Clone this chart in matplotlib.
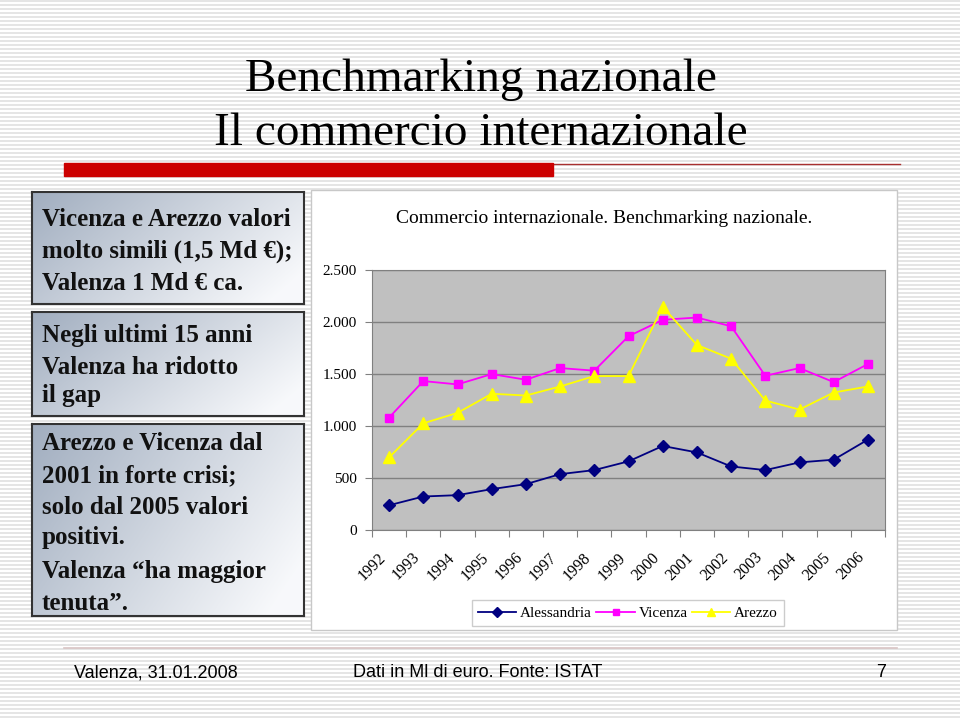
import numpy as np
import matplotlib.pyplot as plt
from matplotlib.patches import Rectangle
from matplotlib.lines import Line2D

W, H = 960, 719

years = ["1992", "1993", "1994", "1995", "1996", "1997", "1998", "1999",
         "2000", "2001", "2002", "2003", "2004", "2005", "2006"]
alessandria = [238, 322, 335, 393, 441, 537, 576, 660, 808, 746, 611, 576, 650, 676, 869]
vicenza = [1081, 1432, 1400, 1499, 1445, 1557, 1532, 1863, 2021, 2043, 1959, 1483, 1557, 1422, 1596]
arezzo = [698, 1026, 1126, 1310, 1293, 1380, 1480, 1480, 2146, 1779, 1647, 1245, 1158, 1322, 1380]
y_ticks = [0, 500, 1000, 1500, 2000, 2500]
y_labels = ["0", "500", "1.000", "1.500", "2.000", "2.500"]

box1 = ["Vicenza e Arezzo valori", "molto simili (1,5 Md \u20ac);", "Valenza 1 Md \u20ac ca."]
box2 = ["Negli ultimi 15 anni", "Valenza ha ridotto", "il gap"]
box3 = ["Arezzo e Vicenza dal", "2001 in forte crisi;", "solo dal 2005 valori",
        "positivi.", "Valenza \u201cha maggior", "tenuta\u201d."]

serif = ["Liberation Serif", "DejaVu Serif"]
narrow = ["Liberation Sans Narrow", "Liberation Sans", "DejaVu Sans"]


def fx(x):
    return x / W


def fy(y):
    return 1 - y / H


fig = plt.figure(figsize=(9.6, 7.19), dpi=100)

# striped slide background
bg = np.ones((H, W, 3))
rows = np.arange(H) % 4 < 2
bg[rows] = 0.90
fig.figimage(bg, xo=0, yo=0, zorder=-10)

# title
fig.text(fx(481), fy(91), "Benchmarking nazionale", family=serif, fontsize=34,
         ha="center", va="baseline")
fig.text(fx(481), fy(145), "Il commercio internazionale", family=serif, fontsize=34,
         ha="center", va="baseline")

# red bar under title
fig.patches.append(Rectangle((fx(64), fy(176)), fx(553) - fx(64), fy(163) - fy(176),
                             transform=fig.transFigure, color="#CC0000", zorder=2))
fig.add_artist(Line2D([fx(553), fx(900)], [fy(164), fy(164)], color="#A83030", lw=1.0))

# left text boxes with gradient fill
grad_x = np.linspace(0, 1, 200)
grad_y = np.linspace(0, 1, 100)
gx, gy = np.meshgrid(grad_x, grad_y)
t = np.clip(0.75 * gx + 0.35 * gy, 0, 1)
dark = np.array([0.63, 0.68, 0.75])
light = np.array([0.97, 0.975, 0.985])
grad = dark[None, None, :] * (1 - t[..., None]) + light[None, None, :] * t[..., None]


def text_box(x0, y0, x1, y1, lines, baselines):
    bax = fig.add_axes([fx(x0), fy(y1), fx(x1) - fx(x0), fy(y0) - fy(y1)])
    bax.imshow(grad, aspect="auto", extent=[0, 1, 0, 1])
    bax.set_xticks([])
    bax.set_yticks([])
    for s in bax.spines.values():
        s.set_color("#333333")
        s.set_linewidth(1.5)
    for line, b in zip(lines, baselines):
        fig.text(fx(42), fy(b), line, family=serif, fontsize=18, fontweight="bold",
                 va="baseline", ha="left", color="#111111")


text_box(32, 192, 304, 304, box1, [226, 258, 290])
text_box(32, 312, 304, 416, box2, [342, 374, 402])
text_box(32, 424, 304, 616, box3, [450, 482, 514, 544, 578, 610])

# chart frame
fig.patches.append(Rectangle((fx(311), fy(630)), fx(897) - fx(311), fy(190) - fy(630),
                             transform=fig.transFigure, facecolor="white",
                             edgecolor="#C8C8C8", lw=1, zorder=-5))
fig.text(fx(604), fy(223), "Commercio internazionale. Benchmarking nazionale.",
         family=serif, fontsize=14, ha="center", va="baseline")

ax = fig.add_axes([fx(372), fy(530), fx(885) - fx(372), fy(270) - fy(530)])
ax.set_facecolor("#C0C0C0")
x = np.arange(len(years))
ax.plot(x, alessandria, color="#000080", marker="D", markersize=6, lw=1.3, label="Alessandria")
ax.plot(x, vicenza, color="#FF00FF", marker="s", markersize=6, lw=1.3, label="Vicenza")
ax.plot(x, arezzo, color="#FFFF00", marker="^", markersize=8, lw=1.3, label="Arezzo")

ax.set_xlim(-0.5, len(years) - 0.5)
ax.set_ylim(0, 2500)
ax.set_yticks(y_ticks)
ax.set_yticklabels(y_labels, family=serif, fontsize=11)
ax.yaxis.grid(True, color="#808080", lw=1)
ax.set_axisbelow(True)
ax.set_xticks(np.arange(-0.5, len(years), 1))
ax.set_xticklabels([])
ax.tick_params(axis="x", which="major", length=5, color="#808080", direction="out")
ax.tick_params(axis="y", length=5, color="#808080", direction="out", pad=6)
for i, yr in enumerate(years):
    ax.annotate(yr, xy=(i, 0), xycoords=("data", "axes fraction"), xytext=(-8, -14),
                textcoords="offset points", rotation=45, ha="right", va="top",
                rotation_mode="anchor", family=serif, fontsize=11.5)
for s in ax.spines.values():
    s.set_color("#808080")

leg = ax.legend(loc="center", bbox_to_anchor=(fx(628), fy(613)), bbox_transform=fig.transFigure,
                ncol=3, frameon=True, fancybox=False, edgecolor="#C0C0C0",
                prop={"family": serif, "size": 11}, handlelength=2.5, markerscale=0.8,
                columnspacing=0.3, handletextpad=0.25, borderpad=0.4)
leg.get_frame().set_linewidth(1)

# footer
fig.add_artist(Line2D([fx(64), fx(897)], [fy(648), fy(648)], color="#D8C4C4", lw=1.2))
fig.text(fx(74), fy(677), "Valenza, 31.01.2008", family=narrow, fontsize=13, va="baseline")
fig.text(fx(353), fy(677), "Dati in Ml di euro. Fonte: ISTAT", family=narrow, fontsize=13,
         va="baseline")
fig.text(fx(886), fy(677), "7", family=narrow, fontsize=13, va="baseline", ha="right")

fig.savefig("out.png", dpi=100)
